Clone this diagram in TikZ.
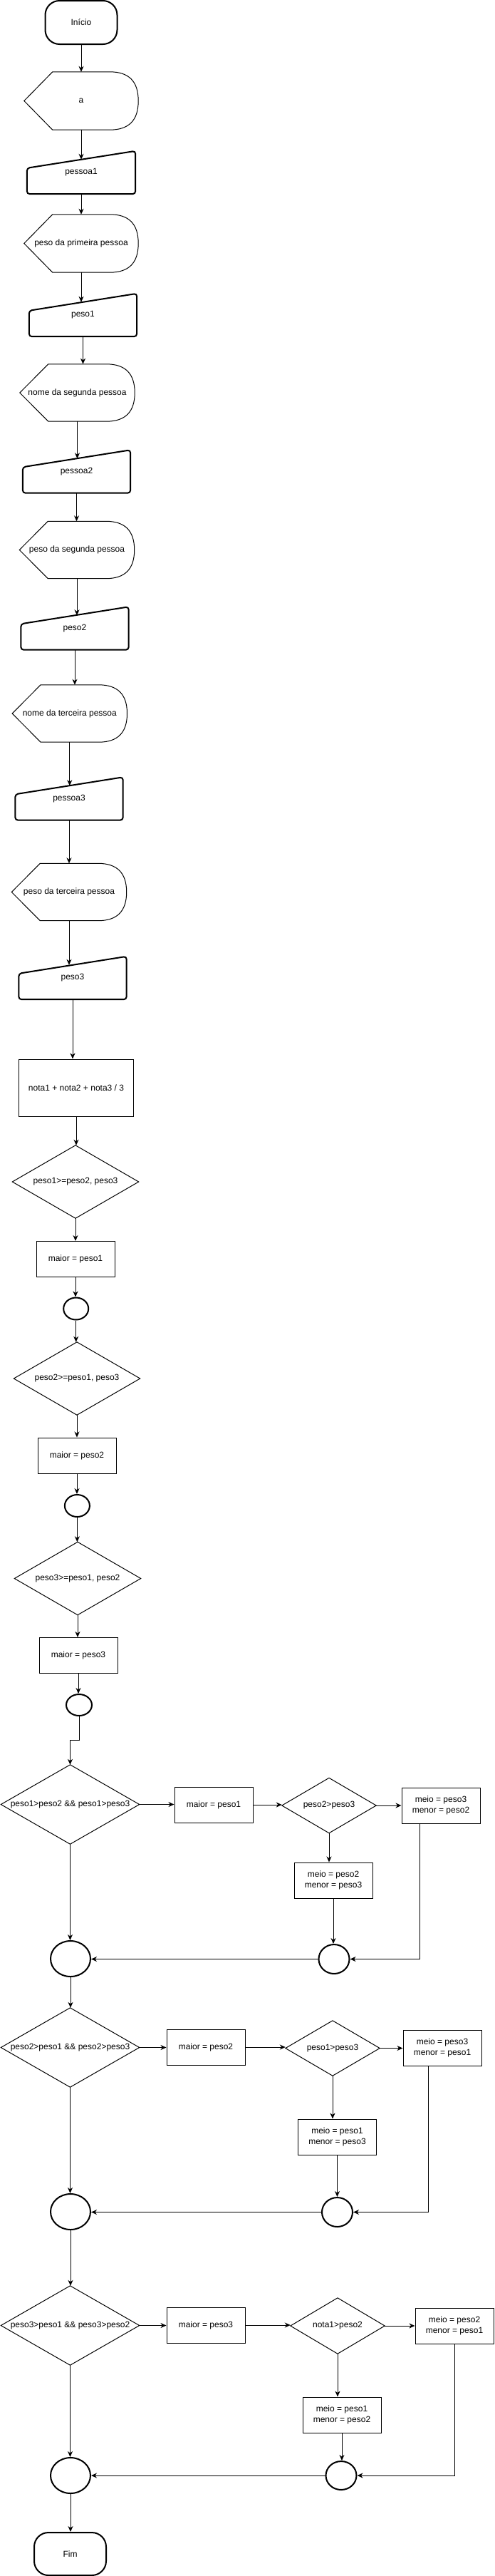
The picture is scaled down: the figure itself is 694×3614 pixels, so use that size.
\documentclass[tikz,border=0pt]{standalone}
\usepackage{fontspec}
\setmainfont{Liberation Sans}
\usetikzlibrary{arrows.meta,calc,shapes.geometric}
\tikzset{
  lbl/.style={font=\fontsize{12}{15}\selectfont, inner sep=0pt, align=center},
  arr/.style={line width=1pt, -{Stealth[length=8pt,width=7pt,inset=2.5pt]}},
  plain/.style={line width=1pt},
  term/.style={lbl, draw, line width=2pt, rounded corners=20pt, minimum width=101pt, minimum height=61pt},
  dispbox/.style={lbl, minimum width=161pt, minimum height=80pt},
  manbox/.style={lbl, minimum width=151pt, minimum height=60pt},
  procbox/.style={lbl, draw, line width=1pt, minimum width=110pt, minimum height=50pt},
  decsmall/.style={lbl, minimum width=177pt, minimum height=102pt},
  decbig/.style={lbl, minimum width=194pt, minimum height=111pt},
  decmini/.style={lbl, minimum width=132pt, minimum height=77pt},
  conn/.style={draw, ellipse, line width=2pt, inner sep=0pt, minimum width=35pt, minimum height=31pt},
  connbig/.style={conn, minimum width=56pt, minimum height=50pt},
  connmid/.style={conn, minimum width=43pt, minimum height=41pt},
  displine/.style={line width=1pt},
  manline/.style={line width=2pt, rounded corners=4pt},
  decline/.style={line width=1pt},
}
\newcommand{\drawdisplay}[1]{%
  \draw[displine] (#1.west) -- ($(#1.north west)+(40,0)$) -- ($(#1.north east)+(-40,0)$)
    .. controls ($(#1.north east)+(-13.3,0)$) and ($(#1.north east)+(0,13.3)$) .. (#1.east)
    .. controls ($(#1.south east)+(0,-13.3)$) and ($(#1.south east)+(-13.3,0)$) .. ($(#1.south east)+(-40,0)$)
    -- ($(#1.south west)+(40,0)$) -- cycle;}
\newcommand{\drawmanual}[1]{%
  \draw[manline] ($(#1.north west)+(0,24)$) -- (#1.north east) -- (#1.south east) -- (#1.south west) -- cycle;
  \coordinate (#1-in) at ($(#1.north)+(0,12)$);}
\newcommand{\drawdecision}[1]{%
  \draw[decline] (#1.north) -- (#1.east) -- (#1.south) -- (#1.west) -- cycle;}
\begin{document}
\begin{tikzpicture}[x=1pt,y=-1pt]
\fill[white] (0,0) rectangle (694,3614);
\useasboundingbox (0,0) rectangle (694,3614);

% --- input chain
\node[term] (ini) at (114,31.5) {Início};
\node[dispbox, minimum width=160pt, minimum height=81pt] (da) at (114,141.5) {a}; \drawdisplay{da}
\node[manbox, minimum width=152pt] (p1) at (114,242) {pessoa1}; \drawmanual{p1}
\node[dispbox, minimum width=160pt, minimum height=81pt] (d1) at (114,341.5) {peso da primeira pessoa}; \drawdisplay{d1}
\node[manbox] (w1) at (116.5,442) {peso1}; \drawmanual{w1}
\node[dispbox] (n2) at (108.5,551) {nome da segunda pessoa}; \drawdisplay{n2}
\node[manbox] (p2) at (107.5,661.5) {pessoa2}; \drawmanual{p2}
\node[dispbox] (d2) at (108,771.5) {peso da segunda pessoa}; \drawdisplay{d2}
\node[manbox] (w2) at (105,881.5) {peso2}; \drawmanual{w2}
\node[dispbox] (n3) at (97.8,1001) {nome da terceira pessoa}; \drawdisplay{n3}
\node[manbox] (p3) at (97,1120.5) {pessoa3}; \drawmanual{p3}
\node[dispbox] (d3) at (97,1251.5) {peso da terceira pessoa}; \drawdisplay{d3}
\node[manbox] (w3) at (102,1372) {peso3}; \drawmanual{w3}
\node[procbox, minimum width=161pt, minimum height=80pt] (avg) at (107,1526) {nota1 + nota2 + nota3 / 3};

% --- first decisions
\node[decsmall] (q1) at (106,1658) {peso1>=peso2, peso3}; \drawdecision{q1}
\node[procbox] (b1) at (106,1766.5) {maior = peso1};
\node[conn] (c1) at (106.7,1836) {};
\node[decsmall] (q2) at (108,1934) {peso2>=peso1, peso3}; \drawdecision{q2}
\node[procbox] (b2) at (108,2042) {maior = peso2};
\node[conn] (c2) at (108.4,2112.5) {};
\node[decsmall] (q3) at (109,2214.5) {peso3>=peso1, peso2}; \drawdecision{q3}
\node[procbox] (b3) at (110,2322.5) {maior = peso3};
\node[conn, minimum width=36pt, minimum height=30pt] (c3) at (111,2392) {};

% --- block 1
\node[decbig] (D1) at (98.5,2531.5) {peso1>peso2 \&\& peso1>peso3}; \drawdecision{D1}
\node[procbox] (M1) at (300,2532) {maior = peso1};
\node[decmini] (E1) at (462,2533) {peso2>peso3}; \drawdecision{E1}
\node[procbox] (R1) at (619,2533) {meio = peso3\\menor = peso2};
\node[procbox] (S1) at (468,2638) {meio = peso2\\menor = peso3};
\node[connmid] (sc1) at (469,2748.5) {};
\node[connbig] (bc1) at (99,2748) {};

% --- block 2
\node[decbig] (D2) at (98.5,2872.5) {peso2>peso1 \&\& peso2>peso3}; \drawdecision{D2}
\node[procbox] (M2) at (289,2872) {maior = peso2};
\node[decmini] (E2) at (467,2873.5) {peso1>peso3}; \drawdecision{E2}
\node[procbox] (R2) at (621,2873) {meio = peso3\\menor = peso1};
\node[procbox] (S2) at (473.5,2998) {meio = peso1\\menor = peso3};
\node[connmid] (sc2) at (473.5,3103.5) {};
\node[connbig] (bc2) at (99,3103) {};

% --- block 3
\node[decbig] (D3) at (98.5,3262.5) {peso3>peso1 \&\& peso3>peso2}; \drawdecision{D3}
\node[procbox] (M3) at (289,3262) {maior = peso3};
\node[decmini, minimum height=78pt] (E3) at (474,3263) {nota1>peso2}; \drawdecision{E3}
\node[procbox] (R3) at (638,3263) {meio = peso2\\menor = peso1};
\node[procbox] (S3) at (480,3388) {meio = peso1\\menor = peso2};
\node[connmid, minimum height=40pt] (sc3) at (479,3473) {};
\node[connbig] (bc3) at (99,3473) {};
\node[term, minimum height=60pt] (fim) at (98.5,3583) {Fim};

% --- connectors: input chain
\draw[arr] (ini.south) -- (ini.south |- da.north);
\draw[arr] (da.south) -- (da.south |- p1-in);
\draw[arr] (p1.south) -- (p1.south |- d1.north);
\draw[arr] (d1.south) -- (d1.south |- w1-in);
\draw[arr] (w1.south) -- (w1.south |- n2.north);
\draw[arr] (n2.south) -- (n2.south |- p2-in);
\draw[arr] (p2.south) -- (p2.south |- d2.north);
\draw[arr] (d2.south) -- (d2.south |- w2-in);
\draw[arr] (w2.south) -- (w2.south |- n3.north);
\draw[arr] (n3.south) -- (n3.south |- p3-in);
\draw[arr] (p3.south) -- (p3.south |- d3.north);
\draw[arr] (d3.south) -- (d3.south |- w3-in);
\draw[arr] (w3.south) -- (w3.south |- avg.north);
\draw[arr] (avg.south) -- (avg.south |- q1.north);
\draw[arr] (q1.south) -- (q1.south |- b1.north);
\draw[arr] (b1.south) -- (b1.south |- c1.north);
\draw[arr] (c1.south) -- (c1.south |- q2.north);
\draw[arr] (q2.south) -- (q2.south |- b2.north);
\draw[arr] (b2.south) -- (b2.south |- c2.north);
\draw[arr] (c2.south) -- (c2.south |- q3.north);
\draw[arr] (q3.south) -- (q3.south |- b3.north);
\draw[arr] (b3.south) -- (b3.south |- c3.north);
\draw[arr] (c3.south) -- ++(0,33) -| (D1.north);

% --- block 1 connectors
\draw[arr] (D1.east) -- (D1.east -| M1.west);
\draw[arr] (M1.east) -- (M1.east -| E1.west);
\draw[arr] (E1.east) -- (E1.east -| R1.west);
\draw[arr] (E1.south) -- (E1.south |- S1.north);
\draw[arr] (S1.south) -- (S1.south |- sc1.north);
\draw[arr] ($(R1.south)+(-30,0)$) |- (sc1.east);
\draw[arr] (sc1.west) -- (sc1.west -| bc1.east);
\draw[arr] (D1.south) -- (D1.south |- bc1.north);
\draw[arr] (bc1.south) -- (bc1.south |- D2.north);

% --- block 2 connectors
\draw[arr] (D2.east) -- (D2.east -| M2.west);
\draw[arr] (M2.east) -- (M2.east -| E2.west);
\draw[arr] (E2.east) -- (E2.east -| R2.west);
\draw[arr] (E2.south) -- (E2.south |- S2.north);
\draw[arr] (S2.south) -- (S2.south |- sc2.north);
\draw[arr] ($(R2.south)+(-20,0)$) |- (sc2.east);
\draw[arr] (sc2.west) -- (sc2.west -| bc2.east);
\draw[arr] (D2.south) -- (D2.south |- bc2.north);
\draw[arr] (bc2.south) -- (bc2.south |- D3.north);

% --- block 3 connectors
\draw[arr] (D3.east) -- (D3.east -| M3.west);
\draw[arr] (M3.east) -- (M3.east -| E3.west);
\draw[arr] (E3.east) -- (E3.east -| R3.west);
\draw[arr] (E3.south) -- (E3.south |- S3.north);
\draw[arr] (S3.south) -- (S3.south |- sc3.north);
\draw[arr] (R3.south) |- (sc3.east);
\draw[arr] (sc3.west) -- (sc3.west -| bc3.east);
\draw[arr] (D3.south) -- (D3.south |- bc3.north);
\draw[arr] (bc3.south) -- (bc3.south |- fim.north);
\end{tikzpicture}
\end{document}
